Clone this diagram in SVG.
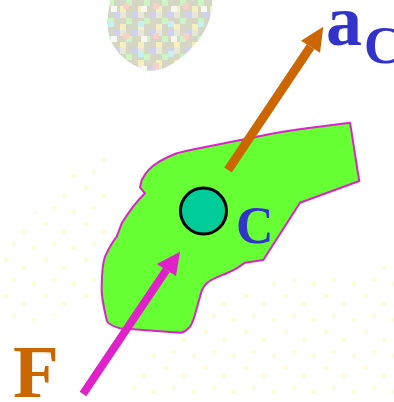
<svg xmlns="http://www.w3.org/2000/svg" width="394" height="402" viewBox="0 0 394 402">
<style>
.serif{font-family:"Liberation Serif","Times New Roman",serif;font-weight:bold}
.blue{fill:#3333cc}
.orange{fill:#cc6600}
</style>
<defs>
<pattern id="pix" width="18" height="18" patternUnits="userSpaceOnUse">
<rect width="18" height="18" fill="#d6d6c4"/>
<rect x="0" y="0" width="6" height="6" fill="#ccf5c4"/>
<rect x="12" y="6" width="6" height="6" fill="#f5f0c0"/>
<rect x="6" y="12" width="6" height="6" fill="#d0d0f0"/>
<rect x="12" y="12" width="6" height="6" fill="#e8e8d8"/>
</pattern>
<pattern id="pix2" width="30" height="30" patternUnits="userSpaceOnUse">
<rect x="3" y="3" width="6" height="6" fill="#f8d0c8"/>
<rect x="18" y="21" width="6" height="6" fill="#c8f0f0"/>
<rect x="21" y="6" width="6" height="6" fill="#f8f8f0"/>
</pattern>
<pattern id="speck" width="40" height="36" patternUnits="userSpaceOnUse">
<rect x="4" y="6" width="4" height="4" fill="#fffbd0"/>
<rect x="22" y="14" width="4" height="4" fill="#fffbd0"/>
<rect x="12" y="26" width="4" height="4" fill="#fffad8"/>
<rect x="32" y="30" width="4" height="4" fill="#fffbd0"/>
</pattern>
</defs>
<rect width="394" height="402" fill="#ffffff"/>
<g id="background">
<path d="M0,250 L110,130 L110,300 L0,330 Z M180,300 L394,260 L394,402 L120,402 Z" fill="url(#speck)"/>
<path d="M110,0 L212,0 C214,20 200,45 178,60 C165,70 150,74 140,68 C118,58 104,40 108,14 Z" fill="url(#pix)"/>
<path d="M110,0 L212,0 C214,20 200,45 178,60 C165,70 150,74 140,68 C118,58 104,40 108,14 Z" fill="url(#pix2)"/>
</g>
<g id="body">
<path d="M350,122.7 C353,140 356,162 359.3,181 L300,202.7 L263.3,260 L245,262.7 L236.7,268.3 C225,275 212,278 206.7,283.3 C202,288 201,292 200,296.7 C196,310 194,322 190,326.7 C186,331 183,332.7 180,332.7 L120,328.3 C112,326 107,323 106.7,320 C103,305 101,295 101.7,285 C102,270 103,262 105,256.7 C110,246 114,240 116.7,236.7 L121.7,223.3 C130,210 138,200 145,193.3 L140,187.3 L141.7,180 C146,172 150,167 156.7,163.3 C163,159 170,156 176.7,153.3 C190,150 198,148 206.7,146.7 L256.7,136.7 C275,133 292,130 306.7,128.3 Z" fill="#66ff33" stroke="#dd22cc" stroke-width="2" stroke-linejoin="round"/>
</g>
<g id="center">
<circle cx="203.5" cy="211" r="23" fill="#00cc99" stroke="#000000" stroke-width="3"/>
<text class="serif blue" x="236" y="243" font-size="52">C</text>
</g>
<g id="connectors">
<line x1="228" y1="170" x2="310.5" y2="46.7" stroke="#cc6600" stroke-width="9"/>
<polygon points="323.3,26.7 301,40.7 320,52.7" fill="#cc6600"/>
<line x1="83" y1="394" x2="166.3" y2="270" stroke="#e020c8" stroke-width="8"/>
<polygon points="180,251.7 156.7,264 176,276" fill="#e020c8"/>
</g>
<g id="labels">
<text class="serif blue" x="326" y="45" font-size="72">a</text>
<text class="serif blue" x="364" y="63" font-size="52">C</text>
<text class="serif orange" x="13" y="397" font-size="75">F</text>
</g>
</svg>
